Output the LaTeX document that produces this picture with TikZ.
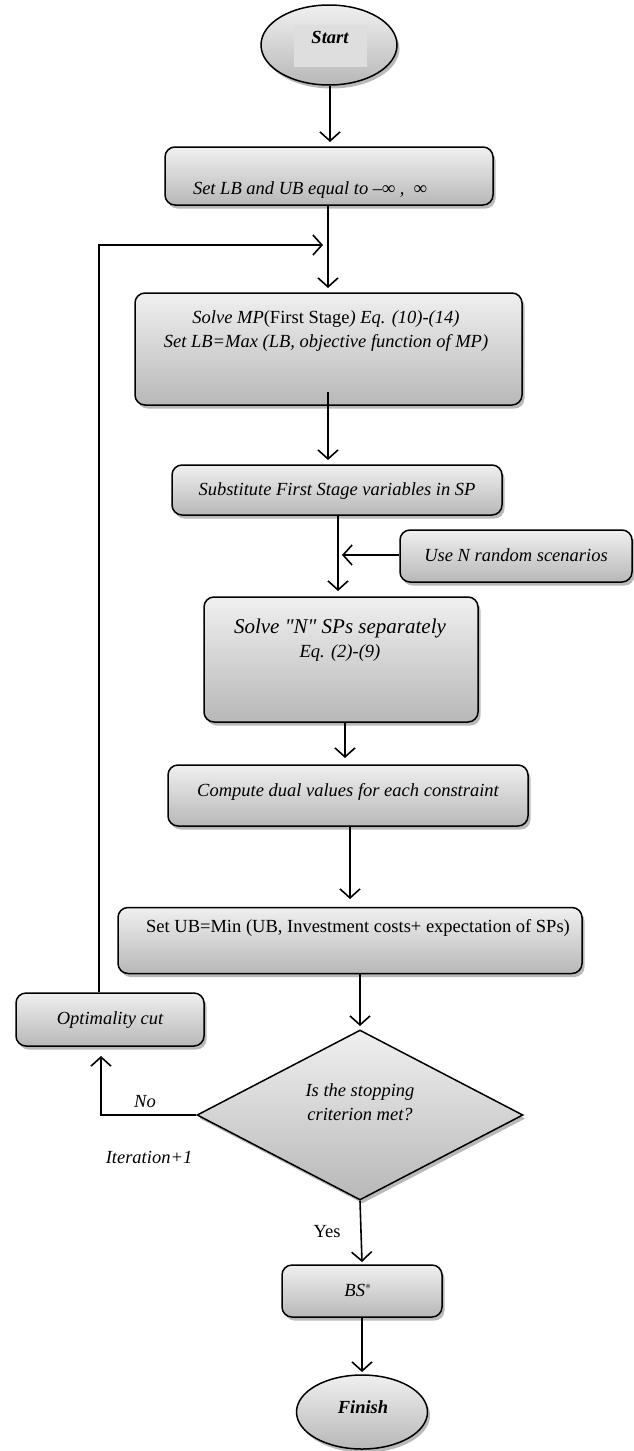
\documentclass[tikz,border=0pt]{standalone}
\usepackage{fontspec}
\setmainfont{Liberation Serif}
\usetikzlibrary{arrows.meta,shapes.geometric,shadows}
\begin{document}
\begin{tikzpicture}[x=1pt,y=-1pt,
  every node/.style={font=\fontsize{18.5}{24}\selectfont},
  shade/.style={top color=black!6, bottom color=black!28,
    drop shadow={shadow xshift=2.5pt,shadow yshift=-3.5pt,opacity=0.55}},
  stepbox/.style={draw, line width=1.5pt, rounded corners=10pt, shade, inner sep=0pt},
  oval/.style={draw, ellipse, line width=1.5pt, shade, inner sep=0pt},
  decision/.style={draw, diamond, line width=1.5pt, shade, inner sep=0pt},
  txt/.style={anchor=base, inner sep=0pt, align=center},
  mtxt/.style={anchor=center, inner sep=0pt, align=center},
  flow/.style={line width=1.6pt, -{Straight Barb[length=9pt,width=20pt,line width=1.6pt]}},
  plain/.style={line width=1.6pt}]
\useasboundingbox (0,0) rectangle (634,1451);
% shapes
\node[oval, minimum width=136pt, minimum height=80pt] (start) at (329,45) {};
\fill[black!13] (294,25) rectangle (367,67);
\node[stepbox, minimum width=328pt, minimum height=58pt] (b1) at (329,176) {};
\node[stepbox, minimum width=387pt, minimum height=112pt] (b2) at (328.5,349) {};
\node[stepbox, minimum width=330pt, minimum height=50pt] (b3) at (337,490) {};
\node[stepbox, minimum width=232pt, minimum height=52pt] (side) at (516,556) {};
\node[stepbox, minimum width=274pt, minimum height=125pt] (b4) at (341,659.5) {};
\node[stepbox, minimum width=360pt, minimum height=61pt] (b5) at (348,795.5) {};
\node[stepbox, minimum width=464pt, minimum height=66pt] (b6) at (350,940.5) {};
\node[stepbox, minimum width=188pt, minimum height=53pt] (opt) at (110,1019.5) {};
\node[decision, minimum width=326pt, minimum height=170pt] (dec) at (360,1115) {};
\node[stepbox, minimum width=160pt, minimum height=52pt] (bs) at (362,1291) {};
\node[oval, minimum width=131pt, minimum height=74pt] (fin) at (362,1412) {};
% texts
\node[txt] (tstart) at (330,43) {\bfseries\itshape Start};
\node[txt] (t1) at (310,194) {\itshape Set LB and UB equal to –∞ ,\ \ ∞};
\node[mtxt] (t2) at (326,331) {\itshape Solve MP\upshape(First Stage\itshape) Eq. (10)-(14)\\ \itshape Set LB=Max (LB, objective function of MP)};
\node[txt] (t3) at (337,495) {\itshape Substitute First Stage variables in SP};
\node[txt] (tside) at (516,561) {\itshape Use N random scenarios};
\node[mtxt] (t4) at (340,640) {\fontsize{21}{23}\selectfont\itshape Solve \textquotedbl N\textquotedbl{} SPs separately\\ \fontsize{18.5}{23}\selectfont\itshape Eq. (2)-(9)};
\node[txt] (t5) at (348,796) {\itshape Compute dual values for each constraint};
\node[txt] (t6) at (358,932) {Set UB=Min (UB, Investment costs+ expectation of SPs)};
\node[txt] (topt) at (110,1024) {\itshape Optimality cut};
\node[mtxt] (tdec) at (360,1102) {\itshape Is the stopping\\ \itshape criterion met?};
\node[txt] (tno) at (145,1107) {\itshape No};
\node[txt] (tit) at (149,1163) {\itshape Iteration+1};
\node[txt] (tyes) at (327,1237) {Yes};
\node[txt] (tbs) at (358,1296) {\itshape BS$^{*}$};
\node[txt] (tfin) at (363,1413) {\bfseries\itshape Finish};
% connectors
\coordinate (a1) at (330,142);
\draw[flow] (start.south -| a1) -- (a1);
\coordinate (a2) at (328,288);
\draw[flow] (b1.south -| a2) -- (a2);
\coordinate (loopend) at (323,245);
\draw[flow] (opt.north -| 99,0) -- (99,245) -- (loopend);
\coordinate (a3) at (328,460);
\draw[flow] (328,392) -- (a3);
\coordinate (a4) at (338,591);
\draw[flow] (b3.south -| a4) -- (a4);
\coordinate (a5) at (342,555);
\draw[flow] (side.west |- a5) -- (a5);
\coordinate (a6) at (345,758);
\draw[flow] (b4.south -| a6) -- (a6);
\coordinate (a7) at (350,899);
\draw[flow] (b5.south -| a7) -- (a7);
\coordinate (a8) at (360,1026);
\draw[flow] (b6.south -| a8) -- (a8);
\coordinate (a9) at (101,1056);
\draw[flow] (dec.west) -- (101,1115) -- (a9);
\coordinate (a10) at (362,1262);
\draw[flow] (dec.south) -- (a10);
\coordinate (a11) at (362,1372);
\draw[flow] (bs.south) -- (a11);
\end{tikzpicture}
\end{document}
